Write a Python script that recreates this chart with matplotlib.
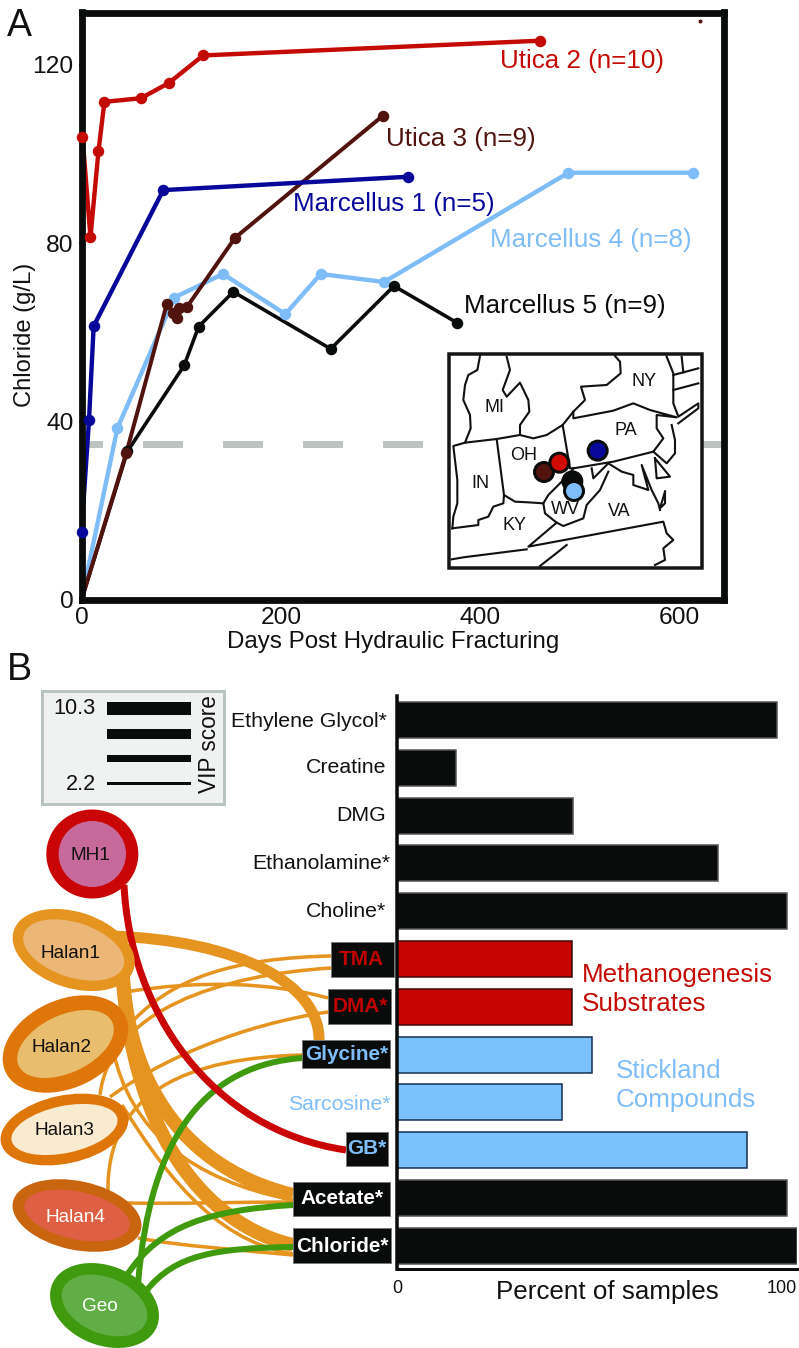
import matplotlib
matplotlib.use("Agg")
import matplotlib.pyplot as plt
from matplotlib.patches import Ellipse, Rectangle, PathPatch
from matplotlib.path import Path
from matplotlib.transforms import Affine2D

plt.rcParams['font.family'] = ['Liberation Sans', 'DejaVu Sans']
plt.rcParams['lines.scale_dashes'] = False

W, H = 799, 1348
DPI = 100
def fs(px): return px * 72 / DPI

RED = '#C30A04'; NAVY = '#07089A'; LIGHT = '#7FBDF8'; BROWN = '#50130D'; BLACK = '#0A0C0C'
ORANGE = '#E5941F'; GREEN = '#3F9A0E'; GREY = '#BBC4C1'

# ---------- Panel A data ----------
utica2_days = [1, 9, 17, 23, 59.5, 87.5, 122, 460]
utica2_chloride = [103.8, 81.4, 100.6, 111.7, 112.5, 115.9, 122.1, 125.4]
marc1_days = [0, 7.5, 12.2, 82, 328]
marc1_chloride = [15.3, 40.3, 61.4, 91.9, 94.9]
utica3_days = [0, 45, 85.6, 92.2, 96.2, 98.2, 105.5, 154, 302.5]
utica3_chloride = [0, 33, 66.4, 64.3, 63.2, 65.4, 65.6, 81.2, 108.6]
utica3_stray_day = [621]
utica3_stray_chloride = [129.9]
marc4_days = [0, 36, 93, 142, 204.5, 240, 303.5, 488.5, 614]
marc4_chloride = [0, 38.5, 67.8, 73.1, 64.1, 73.1, 71.3, 95.8, 95.8]
marc5_days = [0, 46, 103, 117.5, 152.3, 250, 313.5, 376.5]
marc5_chloride = [0, 33.3, 52.6, 61.3, 69.1, 56.3, 70.4, 62.2]
threshold = 35
a_xticks = [0, 200, 400, 600]
a_yticks = [0, 40, 80, 120]

series_labels = [
    ("Utica 2 (n=10)", 500, 68, RED),
    ("Utica 3 (n=9)", 386, 146, BROWN),
    ("Marcellus 1 (n=5)", 293, 211, NAVY),
    ("Marcellus 4 (n=8)", 490, 247, LIGHT),
    ("Marcellus 5 (n=9)", 464, 313, BLACK),
]

# ---------- Panel B data ----------
compounds = ["Ethylene Glycol*", "Creatine", "DMG", "Ethanolamine*", "Choline*", "TMA", "DMA*",
             "Glycine*", "Sarcosine*", "GB*", "Acetate*", "Chloride*"]
percent = [97.4, 15.2, 45.1, 82.4, 100, 45, 45, 50, 42.4, 89.8, 100, 102.6]
bar_colors = [BLACK]*5 + ['#C60402']*2 + ['#7BC1FC']*3 + [BLACK]*2
bar_edges = ['#555555']*5 + ['#3A0A05']*2 + ['#14304F']*3 + ['#555555']*2
label_colors = ['#111111']*5 + ['#C00000']*2 + [LIGHT]*3 + ['white']*2
label_weights = ['normal']*5 + ['bold']*2 + ['bold', 'normal', 'bold'] + ['bold']*2
label_shift_x = [0, 0, 0, 4, 0, -3, 1, 2, 4, 0, -3, 2]
label_shift_y = [1, 2.5, 2, 1.5, 2, 2, 2, 2, 0, 4, 2, 1]

label_boxes = [(331, 942, 63, 35), (328, 989, 63, 35), (302, 1040, 88, 28),
               (346, 1132, 42, 34), (293, 1182, 97, 34), (293, 1228, 98, 35)]

nodes = [  # name, cx, cy, a, b, angle, ring, inner a, inner b, fill, text x, text y, text colour
    ("MH1", 92.3, 854, 46, 44.5, 0, '#C90505', 33.7, 33, '#C8699C', 90, 856, '#111111'),
    ("Halan1", 73.7, 950, 63, 38, 18, ORANGE, 52.3, 27.4, '#EBB676', 70, 953, '#111111'),
    ("Halan2", 65.5, 1044, 66.2, 44, -25, '#DF7609', 51.6, 28.8, '#E8BD6D', 61.7, 1048, '#111111'),
    ("Halan3", 64.5, 1129.5, 65, 34, -12, '#DF7609', 54, 23.5, '#F8EBCF', 64, 1130.7, '#111111'),
    ("Halan4", 77, 1215.5, 65.5, 34.4, 12, '#C9640F', 53.6, 23.8, '#DE5F44', 75.3, 1217.7, 'white'),
    ("Geo", 104.5, 1305.5, 56.5, 39.7, 22, GREEN, 44.7, 28, '#62AE46', 100, 1306.7, 'white'),
]

thin_edges = [
    [(331, 956), (240, 958), (170, 975), (125, 1030)],
    [(331, 968), (220, 975), (110, 1010), (100, 1095)],
    [(328, 998), (270, 982), (200, 980), (125, 992)],
    [(328, 1012), (240, 1025), (160, 1060), (110, 1097)],
    [(302, 1055), (190, 1058), (105, 1090), (108, 1195)],
    [(127, 1203), (180, 1204), (240, 1202), (293, 1202)],
    [(113, 1050), (130, 1130), (190, 1180), (293, 1200)],
    [(138, 1238), (180, 1246), (240, 1250), (293, 1255)],
    [(122, 1105), (160, 1165), (210, 1240), (293, 1254)],
]
thick_edges = [
    ([(110, 936), (240, 940), (320, 985), (319, 1040)], 11),
    ([(122, 960), (125, 1090), (190, 1170), (293, 1195)], 14),
    ([(122, 960), (128, 1130), (205, 1225), (293, 1245)], 14),
]
green_edges = [
    [(138, 1285), (150, 1130), (210, 1065), (302, 1058)],
    [(127, 1275), (160, 1225), (210, 1210), (293, 1205)],
    [(147, 1290), (175, 1255), (215, 1248), (293, 1247)],
]
red_edge = [(124, 885), (130, 1010), (210, 1130), (346, 1150)]

# ---------- Map outline (units of a 3x map sketch) ----------
map_lines = [
    [(240, 48), (232, 90), (205, 105), (195, 135), (190, 180), (210, 225), (212, 265), (195, 308), (290, 297), (360, 285)],
    [(320, 50), (330, 90), (308, 150), (320, 170), (360, 128), (385, 180), (388, 215), (360, 255), (360, 285),
     (400, 295), (440, 285), (488, 255), (520, 215), (555, 180), (543, 140), (620, 135), (662, 100), (660, 65), (645, 48)],
    [(195, 308), (160, 318), (172, 420), (172, 490), (160, 530), (157, 565)],
    [(290, 297), (312, 465)],
    [(157, 565), (235, 555), (235, 540), (265, 530), (280, 500), (310, 490), (312, 465), (345, 485), (385, 487),
     (430, 490), (445, 465), (480, 430), (510, 400), (520, 385)],
    [(488, 255), (510, 385), (520, 385), (640, 365), (760, 335)],
    [(520, 215), (520, 235), (640, 212), (700, 190), (750, 210), (830, 232), (770, 225), (770, 265), (790, 295), (760, 335)],
    [(815, 255), (825, 300), (825, 340), (800, 370), (760, 335)],
    [(765, 355), (810, 410), (770, 415), (765, 355)],
    [(575, 385), (580, 415), (625, 370), (665, 395), (700, 405), (700, 435), (745, 450), (725, 375), (755, 450), (775, 490), (780, 510)],
    [(795, 455), (780, 505), (795, 490), (795, 455)],
    [(430, 490), (435, 520), (470, 548), (490, 558), (550, 535), (560, 495), (600, 450), (625, 395)],
    [(470, 548), (385, 620), (790, 545), (800, 580), (820, 600), (790, 625), (795, 660), (765, 675)],
    [(155, 658), (190, 652), (380, 628)],
    [(500, 615), (475, 635), (420, 678)],
    [(800, 50), (820, 100), (820, 150), (820, 190), (835, 230), (895, 190), (895, 205), (835, 250)],
    [(820, 105), (895, 85)], [(820, 150), (895, 130)], [(850, 97), (845, 50)],
]
map_labels = [("MI", 285, 203), ("NY", 733, 125), ("PA", 677, 272), ("OH", 370, 348),
              ("IN", 240, 432), ("KY", 343, 555), ("WV", 497, 510), ("VA", 657, 515)]
map_dots = [(432, 396, BROWN), (478, 368, '#D00A04'), (593, 332, NAVY), (517, 424, BLACK), (522, 453, LIGHT)]

vip_bars = [(702, 13), (729, 10), (755, 7), (782, 3)]

# ---------- Figure ----------
fig = plt.figure(figsize=(W/DPI, H/DPI), dpi=DPI, facecolor='white')

def axes_px(l, t, r, b, **kw):
    return fig.add_axes([l/W, 1-b/H, (r-l)/W, (b-t)/H], **kw)

# Panel A
ax = axes_px(81.5, 12.5, 724, 600.3, zorder=0)
ax.set_xlim(0, (724-81.5)/0.9967)
ax.set_ylim(-0.07, (600-12.5)/4.46)
ax.axhline(threshold, color=GREY, lw=7*0.72, linestyle=(14.0, (28.8, 28.8)), zorder=1)
series = [(marc4_days, marc4_chloride, LIGHT, 4.4, 11.5),
          (marc5_days, marc5_chloride, BLACK, 3.6, 11.5),
          (utica3_days, utica3_chloride, BROWN, 4.0, 11.5),
          (utica2_days, utica2_chloride, RED, 4.4, 11.5),
          (marc1_days, marc1_chloride, NAVY, 4.4, 11.5)]
for xs, ys, c, lw, ms in series:
    ax.plot(xs, ys, color=c, lw=lw*0.72, solid_joinstyle='round', zorder=2)
for xs, ys, c, lw, ms in series:
    mx = [x for x, y in zip(xs, ys) if y > 0]
    my = [y for y in ys if y > 0]
    ax.plot(mx, my, ls='none', marker='o', color=c, ms=ms*0.72, mew=0, clip_on=False, zorder=3)
ax.plot(utica3_stray_day, utica3_stray_chloride, ls='none', marker='o', color=BROWN, ms=4*0.72, mew=0, zorder=3)
for s in ax.spines.values():
    s.set_linewidth(6.8*0.72); s.set_color(BLACK); s.set_capstyle('projecting')
ax.set_xticks(a_xticks); ax.set_yticks(a_yticks)
ax.tick_params(axis='x', length=3*0.72, width=1.5, color=BLACK, labelsize=fs(24.5), pad=2.5, labelcolor='#111111')
ax.tick_params(axis='y', length=3*0.72, width=1.5, color=BLACK, labelsize=fs(24.5), pad=3.5, labelcolor='#111111')

# Panel B bars
bx = axes_px(397, 696, 796.7, 1269.3, zorder=2)
bx.patch.set_alpha(0)
bx.set_xlim(0, (796.7-397)/3.897)
ypos = list(range(len(compounds)))
bx.set_ylim((1269.3-720)/47.8, -(720-696)/47.8)
bx.barh(ypos, percent, height=36/47.8, color=bar_colors, edgecolor=bar_edges, linewidth=1.1)
for n in ('top', 'right'):
    bx.spines[n].set_visible(False)
bx.spines['left'].set_linewidth(3.5*0.72); bx.spines['bottom'].set_linewidth(3*0.72)
bx.spines['left'].set_color(BLACK); bx.spines['bottom'].set_color(BLACK)
bx.set_yticks(ypos, compounds)
bx.tick_params(axis='y', length=0, pad=10.5*0.72, labelsize=fs(21.3))
bx.set_xticks([0, 100], ['0', '100'])
bx.tick_params(axis='x', length=0, pad=8, labelsize=fs(18), labelcolor='#111111')
for lab, c, w, dx, dy in zip(bx.get_yticklabels(), label_colors, label_weights, label_shift_x, label_shift_y):
    lab.set_color(c); lab.set_fontweight(w)
    lab.set_transform(lab.get_transform() + Affine2D().translate(dx, dy))
    if w == 'bold':
        lab.set_fontsize(fs(20.8))
xlab = bx.get_xticklabels()[1]
xlab.set_transform(xlab.get_transform() + Affine2D().translate(-5, 0))

# Pixel overlay
ov = fig.add_axes([0, 0, 1, 1], zorder=1)
ov.set_xlim(0, W); ov.set_ylim(H, 0); ov.axis('off'); ov.patch.set_alpha(0)

def T(x, y, s, px, ha='left', va='baseline', color='#111111', **kw):
    ov.text(x, y, s, fontsize=fs(px), ha=ha, va=va, color=color, **kw)

T(7, 36, "A", 37.5); T(7, 680, "B", 37.5)
T(25, 335, "Chloride (g/L)", 23.8, ha='center', va='center', rotation=90)
T(393, 642, "Days Post Hydraulic Fracturing", 24.1, ha='center', va='center')
for s, x, y, c in series_labels:
    T(x, y, s, 26, color=c)

# Inset map
ox, oy = 400, 340
def mp(p): return (ox + p[0]/3, oy + p[1]/3)
ov.add_patch(Rectangle((449, 354), 252.7, 213.7, fc='white', ec='#151515', lw=3.5*0.72, zorder=3))
for line in map_lines:
    pts = [mp(p) for p in line]
    ov.plot([p[0] for p in pts], [p[1] for p in pts], color='#111111', lw=2.1*0.72, zorder=3.1,
            solid_joinstyle='round')
for s, x, y in map_labels:
    px, py = mp((x, y))
    T(px, py, s, 18, ha='center', va='center', zorder=3.2)
for x, y, c in map_dots:
    px, py = mp((x, y))
    ov.add_patch(Ellipse((px, py), 19, 19, fc=c, ec='#0A0C0C', lw=3*0.72, zorder=3.3))

# VIP legend
ov.add_patch(Rectangle((42, 690.5), 182, 113, fc='#F0F2F1', ec='#B9C4C2', lw=3*0.72, zorder=1))
for y, h in vip_bars:
    ov.add_patch(Rectangle((107, y), 83.5, h, fc=BLACK, ec='none', zorder=2))
T(96, 709, "10.3", 21.7, ha='right', va='center', zorder=2)
T(96, 785, "2.2", 21.7, ha='right', va='center', zorder=2)
T(209, 744, "VIP score", 22.6, ha='center', va='center', rotation=90, zorder=2)

# Network edges
def bez(P, color, px, z):
    path = Path(P, [Path.MOVETO, Path.CURVE4, Path.CURVE4, Path.CURVE4])
    ov.add_patch(PathPatch(path, fc='none', ec=color, lw=px*0.72, zorder=z, capstyle='butt'))
for P in thin_edges:
    bez(P, ORANGE, 3.5, 1.1)
for P, w in thick_edges:
    bez(P, ORANGE, w, 1.2)
for P in green_edges:
    bez(P, GREEN, 6, 1.3)
bez(red_edge, '#C90505', 7, 1.4)

# Nodes
for name, cx, cy, a, b, ang, ring, ia, ib, fill, tx, ty, tc in nodes:
    ov.add_patch(Ellipse((cx, cy), 2*a, 2*b, angle=ang, fc=ring, ec='none', zorder=1.6))
    ov.add_patch(Ellipse((cx, cy), 2*ia, 2*ib, angle=ang, fc=fill, ec='none', zorder=1.7))
    T(tx, ty, name, 19, ha='center', va='center', color=tc, zorder=1.8)

# Boxes behind bold compound labels
for x, y, w, h in label_boxes:
    ov.add_patch(Rectangle((x, y), w, h, fc=BLACK, ec='#777777', lw=0.7, zorder=2))

T(607, 1299, "Percent of samples", 26, ha='center')
T(581.5, 981.7, "Methanogenesis", 26, color=RED)
T(581.5, 1011, "Substrates", 26, color=RED)
T(615.5, 1077.7, "Stickland", 26, color=LIGHT)
T(615.5, 1107.3, "Compounds", 26, color=LIGHT)

fig.savefig('out.png', dpi=DPI)
